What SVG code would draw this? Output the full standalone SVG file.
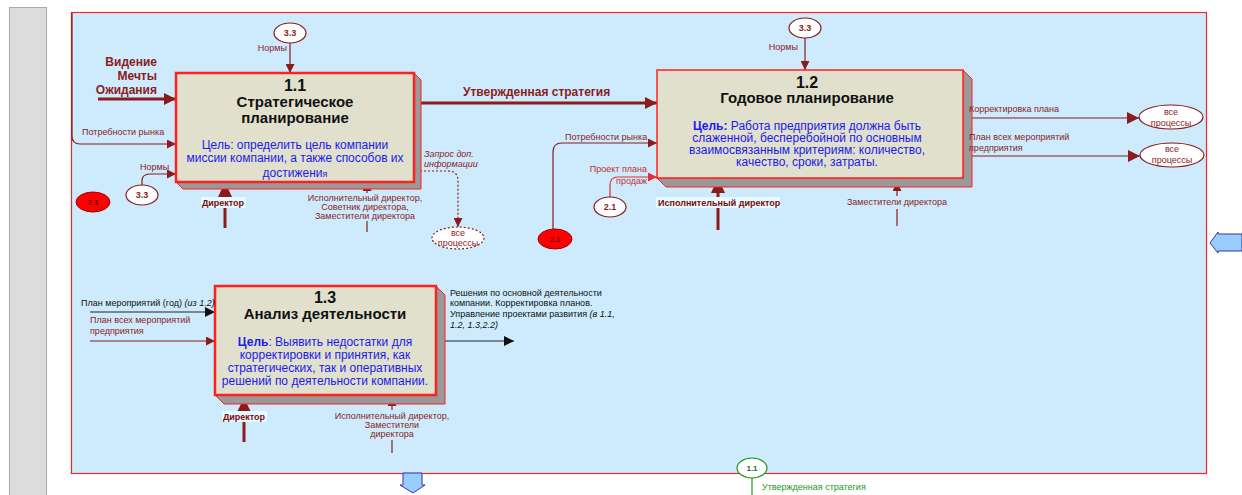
<svg xmlns="http://www.w3.org/2000/svg" width="1242" height="495" viewBox="0 0 1242 495">
<defs>
<style>
text{font-family:"Liberation Sans",Arial,sans-serif}
.lbl{font-size:9px;fill:#8b1c1c}
.lblc{font-size:9px;fill:#8b1c1c;text-anchor:middle}
.blk{font-size:9px;fill:#111}
.bold{font-weight:bold}
.num{font-size:16px;font-weight:bold;fill:#111;text-anchor:middle}
.ttl{font-size:15px;font-weight:bold;fill:#111;text-anchor:middle}
.goal{font-size:12px;fill:#1a1aee;text-anchor:middle}
.face{fill:#e0e0cc;stroke:#ff2020}
.shadow{fill:#999;stroke:#ff2020;stroke-width:1}
.ln{fill:none;stroke:#8b1c1c;stroke-width:1.2}
.thick{fill:none;stroke:#8b1c1c;stroke-width:3}
.oval{fill:#fff;stroke:#8b1c1c;stroke-width:1.2}
.red{fill:#ff0000;stroke:#a00000;stroke-width:1}
.ovt{font-size:9px;fill:#8b1c1c;text-anchor:middle}
</style>
<marker id="ah" viewBox="0 0 10 10" refX="10" refY="5" markerWidth="9" markerHeight="9" markerUnits="userSpaceOnUse" orient="auto"><path d="M0,0L10,5L0,10z" fill="#8b1c1c"/></marker>
<marker id="ahb" viewBox="0 0 10 10" refX="10" refY="5" markerWidth="12" markerHeight="12" markerUnits="userSpaceOnUse" orient="auto"><path d="M0,0L10,5L0,10z" fill="#8b1c1c"/></marker>
<marker id="ahk" viewBox="0 0 10 10" refX="10" refY="5" markerWidth="10" markerHeight="10" markerUnits="userSpaceOnUse" orient="auto"><path d="M0,0L10,5L0,10z" fill="#111"/></marker>
<marker id="ahr" viewBox="0 0 10 10" refX="10" refY="5" markerWidth="9" markerHeight="9" markerUnits="userSpaceOnUse" orient="auto"><path d="M0,0L10,5L0,10z" fill="#e03030"/></marker>
</defs>

<!-- background -->
<rect x="0" y="0" width="1242" height="495" fill="#fff"/>
<rect x="9.5" y="7.5" width="37" height="490" fill="#dcdcdc" stroke="#aaa"/>
<rect x="71.5" y="12.5" width="1135" height="461" fill="#cdebfc" stroke="#ff2020" stroke-width="1.2"/>

<!-- connectors -->
<g id="connectors">
  <!-- box 1.1 -->
  <line class="ln" x1="290" y1="43" x2="290" y2="73" marker-end="url(#ah)"/>
  <line class="thick" x1="98" y1="99" x2="176" y2="99" marker-end="url(#ahb)"/>
  <path class="ln" d="M72,13 V136 Q72,144 80,144 H176" marker-end="url(#ah)"/>
  <path class="ln" d="M142,185 V181 Q142,174 150,174 H176" marker-end="url(#ah)"/>
  <line class="thick" x1="225" y1="228" x2="225" y2="194"/>
  <path d="M225,182 L218,197 L232,197 z" fill="#8b1c1c"/>
  <line class="ln" x1="367" y1="232" x2="367" y2="221"/>
  <line class="ln" x1="367" y1="193" x2="367" y2="182" marker-end="url(#ah)"/>
  <line class="thick" x1="420" y1="103" x2="657" y2="103" stroke-width="2" marker-end="url(#ahb)"/>
  <path d="M420,171 H448 Q458,171 458,181 V227" fill="none" stroke="#8b1c1c" stroke-width="1.2" stroke-dasharray="2,2" marker-end="url(#ah)"/>
  <!-- box 1.2 -->
  <line class="ln" x1="805" y1="38" x2="805" y2="70" marker-end="url(#ah)"/>
  <path class="ln" d="M553,229 V152 Q553,143 562,143 H657" marker-end="url(#ah)"/>
  <path d="M610,197 V185 Q610,177 618,177 H657" fill="none" stroke="#e03030" stroke-width="1.2" marker-end="url(#ahr)"/>
  <line class="thick" x1="718" y1="230" x2="718" y2="192"/>
  <path d="M718,178 L711,193 L725,193 z" fill="#8b1c1c"/>
  <line class="ln" x1="897" y1="226" x2="897" y2="209"/>
  <line class="ln" x1="897" y1="196" x2="897" y2="182" marker-end="url(#ah)"/>
  <line class="ln" x1="963" y1="118" x2="1139" y2="118" marker-end="url(#ahb)"/>
  <line class="ln" x1="972" y1="156" x2="1140" y2="156" marker-end="url(#ahb)"/>
  <!-- box 1.3 -->
  <line x1="90" y1="312" x2="215" y2="312" stroke="#222" stroke-width="1.2" marker-end="url(#ahk)"/>
  <line class="ln" x1="90" y1="341" x2="215" y2="341" marker-end="url(#ah)"/>
  <line class="thick" x1="244" y1="442" x2="244" y2="410"/>
  <path d="M244,398 L237,412 L251,412 z" fill="#8b1c1c"/>
  <line class="ln" x1="392" y1="453" x2="392" y2="440"/>
  <line class="ln" x1="392" y1="410" x2="392" y2="397" marker-end="url(#ah)"/>
  <line x1="436" y1="341" x2="514" y2="341" stroke="#222" stroke-width="1.2" marker-end="url(#ahk)"/>
  <!-- bottom green -->
  <line x1="752" y1="478" x2="752" y2="495" stroke="#1a9a1a" stroke-width="1.2"/>
</g>

<!-- box 1.1 -->
<g id="node-1-1">
  <polygon class="shadow" points="414,73 421,80 421,189 183,189 176,182 414,182"/>
  <rect class="face" x="176" y="73" width="238" height="109" stroke-width="2.5"/>
  <text class="num" x="295" y="91">1.1</text>
  <text class="ttl" x="295" y="107">Стратегическое</text>
  <text class="ttl" x="295" y="123">планирование</text>
  <text class="goal" x="295" y="149">Цель:  определить цель компании</text>
  <text class="goal" x="295" y="162">миссии компании, а также способов их</text>
  <text class="goal" x="295" y="177">достижени<tspan font-size="9px">я</tspan></text>
</g>

<!-- box 1.2 -->
<g id="node-1-2">
  <polygon class="shadow" points="963,70 972,79 972,187 666,187 657,178 963,178"/>
  <rect class="face" x="657" y="70" width="306" height="108" stroke-width="1.5"/>
  <text class="num" x="807" y="88">1.2</text>
  <text class="ttl" x="807" y="103">Годовое планирование</text>
  <text class="goal" x="807" y="130"><tspan font-weight="bold">Цель: </tspan>Работа предприятия должна быть</text>
  <text class="goal" x="807" y="142">слаженной, бесперебойной по основным</text>
  <text class="goal" x="807" y="154">взаимосвязанным критериям: количество,</text>
  <text class="goal" x="807" y="166">качество, сроки, затраты.</text>
</g>

<!-- box 1.3 -->
<g id="node-1-3">
  <polygon class="shadow" points="436,286 445,295 445,404 224,404 215,395 436,395"/>
  <rect class="face" x="215" y="286" width="221" height="109" stroke-width="2.5"/>
  <text class="num" x="325" y="303">1.3</text>
  <text class="ttl" x="325" y="319">Анализ деятельности</text>
  <text class="goal" x="325" y="346" font-size="11px"><tspan font-weight="bold" font-size="12px">Цель</tspan>: Выявить недостатки для</text>
  <text class="goal" x="325" y="359" font-size="11px">корректировки и принятия, как</text>
  <text class="goal" x="325" y="372" font-size="11px">стратегических, так и оперативных</text>
  <text class="goal" x="325" y="385" font-size="11px">решений по деятельности компании.</text>
</g>

<!-- labels for box 1.1 -->
<g id="labels-1-1">
  <text class="bold" x="157" y="66" font-size="12px" fill="#8b1c1c" text-anchor="end">Видение</text>
  <text class="bold" x="157" y="80" font-size="12px" fill="#8b1c1c" text-anchor="end">Мечты</text>
  <text class="bold" x="157" y="94" font-size="12px" fill="#8b1c1c" text-anchor="end">Ожидания</text>
  <text class="lbl" x="287" y="51" text-anchor="end">Нормы</text>
  <text class="lbl" x="82" y="135">Потребности рынка</text>
  <text class="lbl" x="140" y="170">Нормы</text>
  <rect x="201" y="197" width="45" height="11" fill="#e6fbff"/>
  <text class="bold" x="223" y="206" font-size="9px" fill="#7a0a0a" text-anchor="middle">Директор</text>
  <text class="lblc" x="365" y="201">Исполнительный директор,</text>
  <text class="lblc" x="365" y="210">Советник директора,</text>
  <text class="lblc" x="365" y="219">Заместители директора</text>
  <text x="463" y="96" font-size="12px" font-weight="bold" fill="#8b1c1c">Утвержденная стратегия</text>
  <text class="lbl" x="424" y="157" font-style="italic">Запрос доп.</text>
  <text class="lbl" x="424" y="167" font-style="italic">информации</text>
</g>

<!-- labels for box 1.2 -->
<g id="labels-1-2">
  <text class="lbl" x="798" y="50" text-anchor="end">Нормы</text>
  <text class="lbl" x="565" y="140">Потребности рынка</text>
  <text x="647" y="172" font-size="9px" fill="#c03030" text-anchor="end">Проект плана</text>
  <text x="647" y="184" font-size="9px" fill="#c03030" text-anchor="end">продаж</text>
  <rect x="656" y="197" width="124" height="11" fill="#e6fbff"/>
  <text class="bold" x="658" y="206" font-size="9px" fill="#7a0a0a">Исполнительный директор</text>
  <text class="lblc" x="897" y="205">Заместители директора</text>
  <text class="lbl" x="969" y="112">Корректировка плана</text>
  <text class="lbl" x="969" y="140">План всех мероприятий</text>
  <text class="lbl" x="969" y="151">предприятия</text>
</g>

<!-- labels for box 1.3 -->
<g id="labels-1-3">
  <text class="blk" x="81" y="306">План мероприятий (год) <tspan font-style="italic">(из 1.2)</tspan></text>
  <text class="lbl" x="90" y="323">План всех мероприятий</text>
  <text class="lbl" x="90" y="334">предприятия</text>
  <rect x="222" y="411" width="45" height="11" fill="#e6fbff"/>
  <text class="bold" x="244" y="420" font-size="9px" fill="#7a0a0a" text-anchor="middle">Директор</text>
  <text class="lblc" x="392" y="419">Исполнительный директор,</text>
  <text class="lblc" x="392" y="428">Заместители</text>
  <text class="lblc" x="392" y="437">директора</text>
  <text class="blk" x="450" y="296">Решения по основной деятельности</text>
  <text class="blk" x="450" y="306">компании. Корректировка планов.</text>
  <text class="blk" x="450" y="317">Управление проектами развития <tspan font-style="italic">(в 1.1,</tspan></text>
  <text class="blk" x="450" y="328" font-style="italic">1.2, 1.3,2.2)</text>
</g>

<!-- tunnel / reference ovals -->
<g id="oval-3-3-a"><ellipse class="oval" cx="290" cy="33" rx="16" ry="10"/><text class="ovt" x="290" y="36" font-weight="bold" font-size="8px">3.3</text></g>
<g id="oval-3-3-b"><ellipse class="oval" cx="142" cy="195" rx="16" ry="10"/><text class="ovt" x="142" y="198" font-weight="bold" font-size="8px">3.3</text></g>
<g id="oval-2-1-a"><ellipse class="red" cx="93" cy="202" rx="17" ry="10"/><text x="93" y="205" font-size="8px" font-weight="bold" fill="#6a0000" text-anchor="middle">2.1</text></g>
<g id="oval-all-a"><ellipse cx="458" cy="238" rx="26" ry="11" fill="#fff" stroke="#8b1c1c" stroke-width="1.2" stroke-dasharray="2,2"/><text class="ovt" x="458" y="236">все</text><text class="ovt" x="458" y="246">процессы</text></g>
<g id="oval-3-3-c"><ellipse class="oval" cx="805" cy="28" rx="16" ry="10"/><text class="ovt" x="805" y="31" font-weight="bold" font-size="8px">3.3</text></g>
<g id="oval-2-1-b"><ellipse class="red" cx="555" cy="239" rx="17" ry="10"/><text x="555" y="242" font-size="8px" font-weight="bold" fill="#6a0000" text-anchor="middle">2.1</text></g>
<g id="oval-2-1-c"><ellipse class="oval" cx="610" cy="207" rx="16" ry="10"/><text class="ovt" x="610" y="210" font-weight="bold" font-size="8px">2.1</text></g>
<g id="oval-all-b"><ellipse class="oval" cx="1171" cy="117" rx="32" ry="12"/><text class="ovt" x="1171" y="115">все</text><text class="ovt" x="1171" y="126">процессы</text></g>
<g id="oval-all-c"><ellipse class="oval" cx="1172" cy="155" rx="32" ry="12"/><text class="ovt" x="1172" y="152">все</text><text class="ovt" x="1172" y="163">процессы</text></g>
<g id="oval-1-1"><ellipse cx="752" cy="468" rx="15" ry="10" fill="#fff" stroke="#1a9a1a" stroke-width="1.2"/><text x="752" y="471" font-size="8px" font-weight="bold" fill="#1a6a1a" text-anchor="middle">1.1</text><text x="762" y="490" font-size="9px" fill="#1a9a1a">Утвержденная стратегия</text></g>

<!-- navigation arrows -->
<g id="nav-right"><polygon points="1210,243 1218,232 1218,234 1242,234 1242,251 1218,251 1218,253" fill="#99ccff" stroke="#3333aa" stroke-width="1"/></g>
<g id="nav-down"><polygon points="403,473 422,473 422,485 425,485 413,493 400,485 403,485" fill="#99ccff" stroke="#3333aa" stroke-width="1"/></g>
</svg>
